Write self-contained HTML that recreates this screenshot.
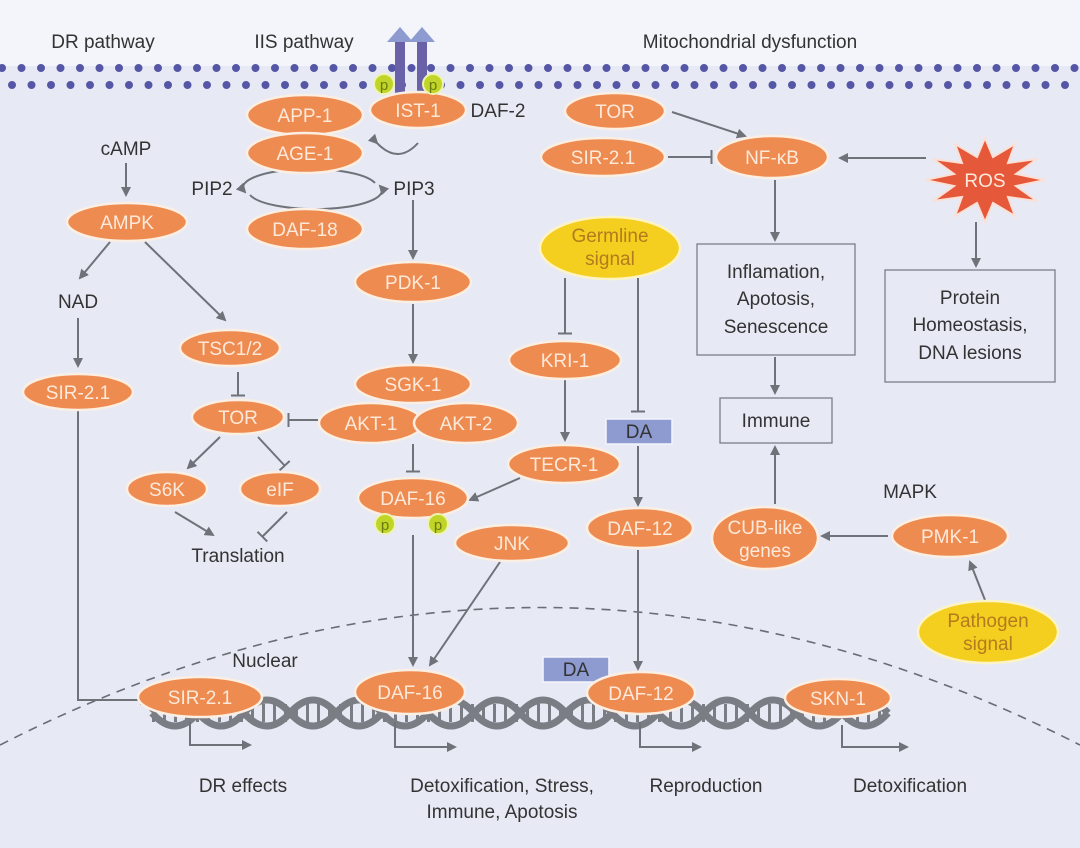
<!DOCTYPE html>
<html><head><meta charset="utf-8"><style>
html,body{margin:0;padding:0;background:#fff}
svg{display:block}
text{font-family:"Liberation Sans",sans-serif}
.n{fill:#ee8b50;stroke:#fbeee2;stroke-width:2.5}
.nt{fill:#fde9da;font-size:19px;text-anchor:middle}
.t{fill:#333;font-size:19px;text-anchor:middle}
.a{stroke:#6f7278;stroke-width:2;fill:none}
.y{fill:#f4cf1f;stroke:#fdf3c4;stroke-width:2.5}
.yt{fill:#b27b1e;font-size:19px;text-anchor:middle}
.box{fill:none;stroke:#7b7e86;stroke-width:1.3}
</style></head><body>
<svg width="1080" height="848" viewBox="0 0 1080 848" xmlns="http://www.w3.org/2000/svg">
<defs>
<marker id="ar" markerWidth="10" markerHeight="10" refX="8" refY="5" orient="auto" markerUnits="userSpaceOnUse"><path d="M0,0 L10,5 L0,10 Z" fill="#6f7278"/></marker>
<marker id="ib" markerWidth="4" markerHeight="14" refX="2" refY="7" orient="auto" markerUnits="userSpaceOnUse"><rect x="0.5" y="0" width="2" height="14" fill="#6f7278"/></marker>
</defs>
<rect width="1080" height="848" fill="#e7eaf5"/>
<rect width="1080" height="66" fill="#f4f5fa"/>
<rect y="66" width="1080" height="20" fill="#e7eaf5"/>
<line x1="2" y1="68" x2="1080" y2="68" stroke="#5656a6" stroke-width="8" stroke-linecap="round" stroke-dasharray="0 19.5"/>
<line x1="12" y1="85" x2="1080" y2="85" stroke="#5656a6" stroke-width="8" stroke-linecap="round" stroke-dasharray="0 19.5"/>
<!-- receptor -->
<rect x="395" y="40" width="10" height="62" fill="#6a62a8"/>
<rect x="417" y="40" width="10" height="62" fill="#6a62a8"/>
<path d="M387,42 L400,27 L413,42 Z M409,42 L422,27 L435,42 Z" fill="#8d9bd0"/>
<text x="103" y="48" class="t">DR pathway</text>
<text x="304" y="48" class="t">IIS pathway</text>
<text x="750" y="48" class="t">Mitochondrial dysfunction</text>
<!-- nuclear arc -->
<path d="M0,745 Q540,470 1080,745" fill="none" stroke="#6a6d75" stroke-width="1.6" stroke-dasharray="9 7"/>
<!-- DNA -->
<line x1="152" y1="713" x2="885" y2="713" stroke="#7a7d83" stroke-width="18" stroke-dasharray="3 8"/>
<path d="M152,713 q23,-26 46,0 t46,0 t46,0 t46,0 t46,0 t46,0 t46,0 t46,0 t46,0 t46,0 t46,0 t46,0 t46,0 t46,0 t46,0 t46,0" fill="none" style="stroke:#7a7d83;stroke-width:7"/>
<path d="M152,713 q23,26 46,0 t46,0 t46,0 t46,0 t46,0 t46,0 t46,0 t46,0 t46,0 t46,0 t46,0 t46,0 t46,0 t46,0 t46,0 t46,0" fill="none" style="stroke:#7a7d83;stroke-width:7"/>
<!-- arrows -->
<g class="a">
<line x1="126" y1="163" x2="126" y2="195" marker-end="url(#ar)"/>
<line x1="110" y1="242" x2="80" y2="278" marker-end="url(#ar)"/>
<line x1="145" y1="242" x2="225" y2="320" marker-end="url(#ar)"/>
<line x1="78" y1="318" x2="78" y2="366" marker-end="url(#ar)"/>
<path d="M78,410 L78,700 L148,700" marker-end="url(#ar)"/>
<line x1="238" y1="372" x2="238" y2="396" marker-end="url(#ib)"/>
<line x1="318" y1="420" x2="288" y2="420" marker-end="url(#ib)"/>
<line x1="220" y1="437" x2="188" y2="468" marker-end="url(#ar)"/>
<line x1="258" y1="437" x2="285" y2="466" marker-end="url(#ib)"/>
<line x1="175" y1="512" x2="213" y2="535" marker-end="url(#ar)"/>
<line x1="287" y1="512" x2="262" y2="537" marker-end="url(#ib)"/>
<path d="M377,143 Q398,165 418,143" marker-start="url(#ar)"/>
<path d="M375,183 A65,18 0 1 0 245,192" marker-end="url(#ar)"/>
<path d="M250,195 A65,18 0 1 0 380,186" marker-end="url(#ar)"/>
<line x1="413" y1="200" x2="413" y2="258" marker-end="url(#ar)"/>
<line x1="413" y1="304" x2="413" y2="362" marker-end="url(#ar)"/>
<line x1="413" y1="444" x2="413" y2="472" marker-end="url(#ib)"/>
<line x1="413" y1="535" x2="413" y2="665" marker-end="url(#ar)"/>
<line x1="500" y1="562" x2="430" y2="665" marker-end="url(#ar)"/>
<line x1="520" y1="478" x2="470" y2="500" marker-end="url(#ar)"/>
<line x1="565" y1="278" x2="565" y2="334" marker-end="url(#ib)"/>
<line x1="565" y1="380" x2="565" y2="440" marker-end="url(#ar)"/>
<line x1="638" y1="278" x2="638" y2="412" marker-end="url(#ib)"/>
<line x1="638" y1="446" x2="638" y2="505" marker-end="url(#ar)"/>
<line x1="638" y1="550" x2="638" y2="669" marker-end="url(#ar)"/>
<line x1="672" y1="112" x2="745" y2="136" marker-end="url(#ar)"/>
<line x1="668" y1="157" x2="712" y2="157" marker-end="url(#ib)"/>
<line x1="926" y1="158" x2="840" y2="158" marker-end="url(#ar)"/>
<line x1="775" y1="180" x2="775" y2="240" marker-end="url(#ar)"/>
<line x1="976" y1="222" x2="976" y2="266" marker-end="url(#ar)"/>
<line x1="775" y1="357" x2="775" y2="393" marker-end="url(#ar)"/>
<line x1="775" y1="504" x2="775" y2="447" marker-end="url(#ar)"/>
<line x1="888" y1="536" x2="822" y2="536" marker-end="url(#ar)"/>
<line x1="985" y1="600" x2="970" y2="562" marker-end="url(#ar)"/>
<path d="M190,722 L190,745 L250,745" marker-end="url(#ar)"/>
<path d="M395,722 L395,747 L455,747" marker-end="url(#ar)"/>
<path d="M640,722 L640,747 L700,747" marker-end="url(#ar)"/>
<path d="M842,725 L842,747 L907,747" marker-end="url(#ar)"/>
</g>
<!-- nodes -->
<ellipse class="n" cx="305" cy="115" rx="58" ry="20"/><text class="nt" x="305" y="122">APP-1</text>
<ellipse class="n" cx="305" cy="153" rx="58" ry="20"/><text class="nt" x="305" y="160">AGE-1</text>
<ellipse class="n" cx="418" cy="110" rx="48" ry="18"/><text class="nt" x="418" y="117">IST-1</text>
<circle cx="384" cy="84" r="10" fill="#c0d527" stroke="#eef3b0" stroke-width="2"/><text x="384" y="90" font-size="15" fill="#6a7a10" text-anchor="middle">p</text>
<circle cx="433" cy="84" r="10" fill="#c0d527" stroke="#eef3b0" stroke-width="2"/><text x="433" y="90" font-size="15" fill="#6a7a10" text-anchor="middle">p</text>
<text class="t" x="498" y="117">DAF-2</text>
<text class="t" x="126" y="155">cAMP</text>
<text class="t" x="212" y="195">PIP2</text>
<text class="t" x="414" y="195">PIP3</text>
<ellipse class="n" cx="305" cy="229" rx="58" ry="20"/><text class="nt" x="305" y="236">DAF-18</text>
<ellipse class="n" cx="127" cy="222" rx="60" ry="19"/><text class="nt" x="127" y="229">AMPK</text>
<text class="t" x="78" y="308">NAD</text>
<ellipse class="n" cx="78" cy="392" rx="55" ry="18"/><text class="nt" x="78" y="399">SIR-2.1</text>
<ellipse class="n" cx="230" cy="348" rx="50" ry="18"/><text class="nt" x="230" y="355">TSC1/2</text>
<ellipse class="n" cx="238" cy="417" rx="46" ry="17"/><text class="nt" x="238" y="424">TOR</text>
<ellipse class="n" cx="167" cy="489" rx="40" ry="17"/><text class="nt" x="167" y="496">S6K</text>
<ellipse class="n" cx="280" cy="489" rx="40" ry="17"/><text class="nt" x="280" y="496">eIF</text>
<text class="t" x="238" y="562">Translation</text>
<ellipse class="n" cx="413" cy="282" rx="58" ry="20"/><text class="nt" x="413" y="289">PDK-1</text>
<ellipse class="n" cx="413" cy="384" rx="58" ry="19"/><text class="nt" x="413" y="391">SGK-1</text>
<ellipse class="n" cx="371" cy="423" rx="52" ry="20"/><text class="nt" x="371" y="430">AKT-1</text>
<ellipse class="n" cx="466" cy="423" rx="52" ry="20"/><text class="nt" x="466" y="430">AKT-2</text>
<ellipse class="n" cx="413" cy="498" rx="55" ry="20"/><text class="nt" x="413" y="505">DAF-16</text>
<circle cx="385" cy="524" r="10" fill="#c0d527" stroke="#eef3b0" stroke-width="2"/><text x="385" y="530" font-size="15" fill="#6a7a10" text-anchor="middle">p</text>
<circle cx="438" cy="524" r="10" fill="#c0d527" stroke="#eef3b0" stroke-width="2"/><text x="438" y="530" font-size="15" fill="#6a7a10" text-anchor="middle">p</text>
<ellipse class="n" cx="512" cy="543" rx="57" ry="18"/><text class="nt" x="512" y="550">JNK</text>
<ellipse class="n" cx="564" cy="464" rx="56" ry="19"/><text class="nt" x="564" y="471">TECR-1</text>
<ellipse class="n" cx="565" cy="360" rx="56" ry="19"/><text class="nt" x="565" y="367">KRI-1</text>
<ellipse class="y" cx="610" cy="248" rx="70" ry="31"/><text class="yt" x="610" y="242">Germline</text><text class="yt" x="610" y="265">signal</text>
<rect x="606" y="419" width="66" height="25" fill="#8d9bd0" stroke="#f3f4fb" stroke-width="1.5"/><text class="t" x="639" y="438" fill="#223">DA</text>
<ellipse class="n" cx="640" cy="528" rx="53" ry="20"/><text class="nt" x="640" y="535">DAF-12</text>
<ellipse class="n" cx="615" cy="111" rx="50" ry="18"/><text class="nt" x="615" y="118">TOR</text>
<ellipse class="n" cx="603" cy="157" rx="62" ry="19"/><text class="nt" x="603" y="164">SIR-2.1</text>
<ellipse class="n" cx="772" cy="157" rx="56" ry="21"/><text class="nt" x="772" y="164">NF-κB</text>
<polygon points="1045,180 1016,186 1037,201 1008,197 1015,216 993,203 985,222 977,203 955,216 962,197 933,201 954,186 925,180 954,174 933,159 962,163 955,144 977,157 985,138 993,157 1015,144 1008,163 1037,159 1016,174" fill="#e6583a" stroke="#fbe0d5" stroke-width="2"/>
<text class="nt" x="985" y="187">ROS</text>
<rect class="box" x="697" y="244" width="158" height="111"/>
<text class="t" x="776" y="278">Inflamation,</text><text class="t" x="776" y="305">Apotosis,</text><text class="t" x="776" y="333">Senescence</text>
<rect class="box" x="885" y="270" width="170" height="112"/>
<text class="t" x="970" y="304">Protein</text><text class="t" x="970" y="331">Homeostasis,</text><text class="t" x="970" y="359">DNA lesions</text>
<rect class="box" x="720" y="398" width="112" height="45"/><text class="t" x="776" y="427">Immune</text>
<text class="t" x="910" y="498">MAPK</text>
<ellipse class="n" cx="765" cy="538" rx="53" ry="31"/><text class="nt" x="765" y="534">CUB-like</text><text class="nt" x="765" y="557">genes</text>
<ellipse class="n" cx="950" cy="536" rx="58" ry="21"/><text class="nt" x="950" y="543">PMK-1</text>
<ellipse class="y" cx="988" cy="632" rx="70" ry="31"/><text class="yt" x="988" y="627">Pathogen</text><text class="yt" x="988" y="650">signal</text>
<text class="t" x="265" y="667">Nuclear</text>
<ellipse class="n" cx="200" cy="697" rx="62" ry="20"/><text class="nt" x="200" y="704">SIR-2.1</text>
<ellipse class="n" cx="410" cy="692" rx="55" ry="22"/><text class="nt" x="410" y="699">DAF-16</text>
<rect x="543" y="657" width="66" height="25" fill="#8d9bd0" stroke="#f3f4fb" stroke-width="1.5"/><text class="t" x="576" y="676" fill="#223">DA</text>
<ellipse class="n" cx="641" cy="693" rx="54" ry="21"/><text class="nt" x="641" y="700">DAF-12</text>
<ellipse class="n" cx="838" cy="698" rx="53" ry="19"/><text class="nt" x="838" y="705">SKN-1</text>
<text class="t" x="243" y="792">DR effects</text>
<text class="t" x="502" y="792">Detoxification, Stress,</text>
<text class="t" x="502" y="818">Immune, Apotosis</text>
<text class="t" x="706" y="792">Reproduction</text>
<text class="t" x="910" y="792">Detoxification</text>
</svg>
</body></html>
